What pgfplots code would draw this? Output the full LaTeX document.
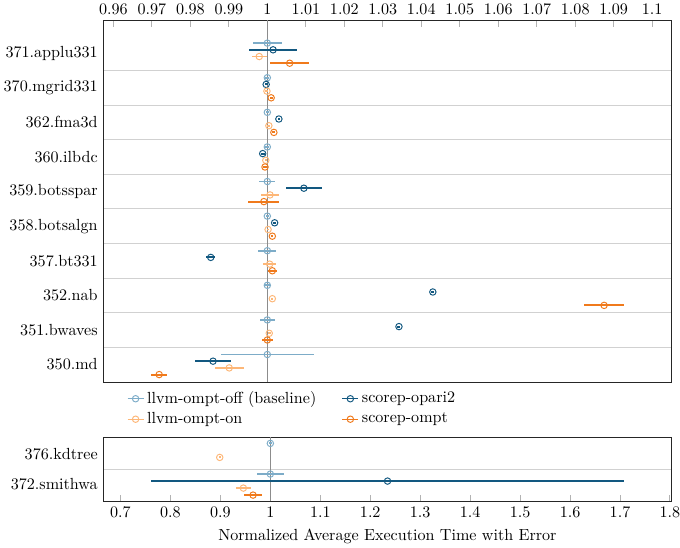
\documentclass[border=0pt]{standalone}
\usepackage{pgfplots}
\pgfplotsset{compat=1.18}
\usepackage{pgfplotstable}

\definecolor{cBase}{RGB}{125,172,200}
\definecolor{cOpari}{RGB}{18,88,128}
\definecolor{cOn}{RGB}{253,183,120}
\definecolor{cOmpt}{RGB}{240,122,28}

% top panel: y = group + offset, x = normalized time, e = error
\pgfplotstableread{
y x e
9.29 1.0000 0.0038
8.29 1.0000 0.0005
7.29 1.0000 0.0004
6.29 1.0000 0.0005
5.29 1.0000 0.0021
4.29 1.0000 0.0004
3.29 1.0000 0.0023
2.29 1.0000 0.0008
1.29 1.0000 0.0020
0.29 1.0000 0.0120
}\baseTop
\pgfplotstableread{
y x e
9.097 1.0015 0.0063
8.097 0.9997 0.0004
7.097 1.0030 0.0003
6.097 0.9988 0.0005
5.097 1.0095 0.0046
4.097 1.0019 0.0003
3.097 0.9853 0.0012
2.097 1.0430 0.0004
1.097 1.0342 0.0004
0.097 0.9859 0.0047
}\opariTop
\pgfplotstableread{
y x e
8.903 0.9979 0.0019
7.903 0.9999 0.0004
6.903 1.0004 0.0004
5.903 0.9996 0.0003
4.903 1.0007 0.0023
3.903 1.0002 0.0003
2.903 1.0006 0.0016
1.903 1.0013 0.0003
0.903 1.0005 0.0004
-0.097 0.9901 0.0038
}\onTop
\pgfplotstableread{
y x e
8.71 1.0058 0.0051
7.71 1.0010 0.0004
6.71 1.0017 0.0004
5.71 0.9994 0.0004
4.71 0.9991 0.0040
3.71 1.0013 0.0003
2.71 1.0013 0.0012
1.71 1.0875 0.0052
0.71 1.0000 0.0014
-0.29 0.9719 0.0020
}\omptTop

% bottom panel
\pgfplotstableread{
y x e
1.343 1.0000 0.0030
0.343 1.0000 0.0264
}\baseBot
\pgfplotstableread{
y x e
0.114 1.2346 0.4734
}\opariBot
\pgfplotstableread{
y x e
0.886 0.8987 0.0020
-0.114 0.9460 0.0154
}\onBot
\pgfplotstableread{
y x e
-0.343 0.9654 0.0186
}\omptBot

\pgfplotsset{
  panel/.style={
    scale only axis,
    width=352.9pt,
    axis line style={black!85},
    ytick style={draw=none},
    xtick style={black!30, line width=0.6pt},
    tick align=inside,
    minor y tick style={draw=none},
    yminorgrids,
    minor grid style={black!18, line width=0.6pt},
    tick label style={font=\normalsize},
  },
  ser/.style={
    only marks, mark=o, mark size=2pt, color=#1,
    mark options={solid, line width=0.6pt},
    error bars/.cd, x dir=both, x explicit,
    error mark=none,
    error bar style={line width=1.2pt, color=#1},
  },
}

\begin{document}
\begin{tikzpicture}
\begin{axis}[
  panel,
  name=top,
  height=224.8pt,
  xmin=0.9574, xmax=1.105,
  ymin=-0.5, ymax=9.96,
  xtick={0.96,0.97,0.98,0.99,1,1.01,1.02,1.03,1.04,1.05,1.06,1.07,1.08,1.09,1.1},
  xtick pos=upper, xticklabel pos=upper,
  ytick={0,1,2,3,4,5,6,7,8,9},
  yticklabels={350.md,351.bwaves,352.nab,357.bt331,358.botsalgn,359.botsspar,360.ilbdc,362.fma3d,370.mgrid331,371.applu331},
  minor ytick={0.5,1.5,2.5,3.5,4.5,5.5,6.5,7.5,8.5},
  legend columns=2,
  legend cell align=left,
  legend style={draw=none, fill=none, font=\normalsize,
    at={(axis description cs:0.033,-0.008)}, anchor=north west,
    /tikz/every even column/.append style={column sep=14pt}},
  legend image code/.code={
    \draw[#1, mark=none] (0cm,0cm) -- (0.35cm,0cm);
    \draw[#1, only marks] plot coordinates {(0.175cm,0cm)};
  },
]
\draw[black!45, line width=0.6pt] (axis cs:1,-0.5) -- (axis cs:1,9.96);
\addplot[ser=cBase] table[x=x, y=y, x error=e] {\baseTop};
\addlegendentry{llvm-ompt-off (baseline)}
\addplot[ser=cOpari] table[x=x, y=y, x error=e] {\opariTop};
\addlegendentry{scorep-opari2}
\addplot[ser=cOn] table[x=x, y=y, x error=e] {\onTop};
\addlegendentry{llvm-ompt-on}
\addplot[ser=cOmpt] table[x=x, y=y, x error=e] {\omptTop};
\addlegendentry{scorep-ompt}
\end{axis}

\begin{axis}[
  panel,
  at={(top.south west)}, anchor=north west, yshift=-34.3pt,
  height=40pt,
  xmin=0.6657, xmax=1.803,
  ymin=-0.55, ymax=1.55,
  xtick={0.7,0.8,0.9,1,1.1,1.2,1.3,1.4,1.5,1.6,1.7,1.8},
  xtick pos=lower, xticklabel pos=lower,
  ytick={0,1},
  yticklabels={372.smithwa,376.kdtree},
  minor ytick={0.5},
  xlabel={Normalized Average Execution Time with Error},
]
\draw[black!45, line width=0.6pt] (axis cs:1,-0.55) -- (axis cs:1,1.55);
\addplot[ser=cBase] table[x=x, y=y, x error=e] {\baseBot};
\addplot[ser=cOpari] table[x=x, y=y, x error=e] {\opariBot};
\addplot[ser=cOn] table[x=x, y=y, x error=e] {\onBot};
\addplot[ser=cOmpt] table[x=x, y=y, x error=e] {\omptBot};
\end{axis}
\pgfresetboundingbox
\path (top.north west) ++(-64.2pt,12.4pt) rectangle ++(422.4pt,-339.8pt);
\end{tikzpicture}
\end{document}
